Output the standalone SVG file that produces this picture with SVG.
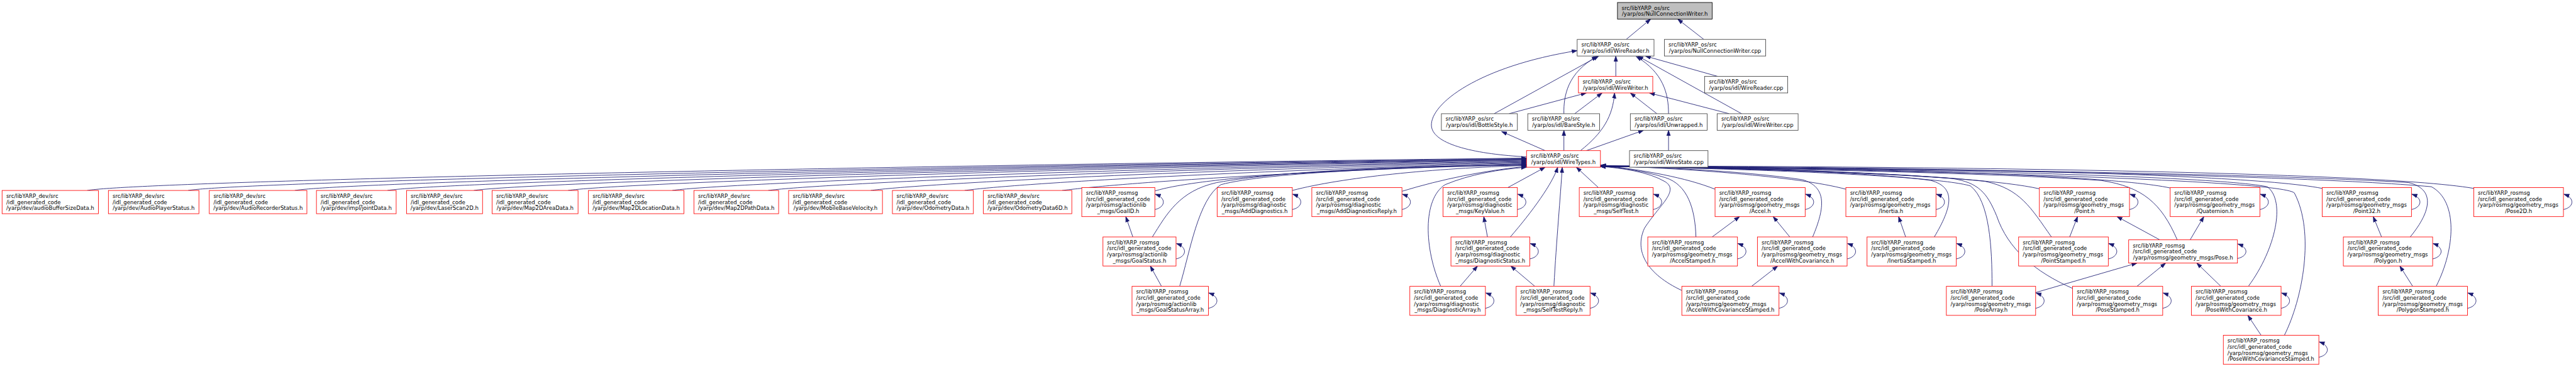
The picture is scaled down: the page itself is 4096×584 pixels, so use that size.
<svg xmlns="http://www.w3.org/2000/svg" width="4096" height="584" viewBox="0 0 4096 584">
<style>
.t{font-family:"DejaVu Sans","Liberation Sans",sans-serif;font-size:13px;fill:#000}
.m{text-anchor:middle}
.nb{fill:#fff;stroke:#404040;stroke-width:1.3}
.nr{fill:#fff;stroke:#ff0000;stroke-width:1.3}
.ng{fill:#bfbfbf;stroke:#000;stroke-width:1.3}
#edges path{fill:none;stroke:#191970;stroke-width:1.3;marker-end:url(#ah)}
</style>
<defs>
<marker id="ah" markerUnits="userSpaceOnUse" markerWidth="14" markerHeight="11" refX="13" refY="5" orient="auto" viewBox="0 0 14 10">
<path d="M0,0.5 L13,5 L0,9.5 z" fill="#191970" stroke="#191970" stroke-width="1"/>
</marker>
</defs>
<rect width="4096" height="584" fill="#fff"/>
<g transform="scale(0.6603)">
<g id="edges">
<path d="M3916,95 L3975,46"/>
<path d="M4103,95 L4040,46"/>
<path d="M3891,184 L3891,135"/>
<path d="M4136,184 L3962,135"/>
<path d="M3598,274 L3850,135"/>
<path d="M3634,274 L3820,224"/>
<path d="M3766,274 C3765,230 3775,175 3846,136"/>
<path d="M3792,274 L3858,224"/>
<path d="M4018,274 C4018,225 4005,175 3940,136"/>
<path d="M3990,274 L3926,224"/>
<path d="M4194,274 L3944,135"/>
<path d="M4164,274 L3972,224"/>
<path d="M3676,378 C3560,372 3450,350 3447,303 C3444,250 3560,160 3798,122"/>
<path d="M3721,363 L3616,317"/>
<path d="M3766,363 L3766,314"/>
<path d="M3806,363 C3860,320 3884,280 3888,224"/>
<path d="M3820,363 L3958,314"/>
<path d="M4018,363 L4018,314"/>
<path d="M210,459 C330,438 1900,402 3676,381"/>
<path d="M453,459 C560,440 2000,404 3676,382"/>
<path d="M710,459 C810,441 2100,405 3676,383"/>
<path d="M933,459 C1030,442 2200,406 3676,384"/>
<path d="M1141,459 C1240,443 2300,407 3676,385"/>
<path d="M1368,459 C1460,444 2400,408 3676,386"/>
<path d="M1619,459 C1710,445 2500,410 3676,388"/>
<path d="M1850,459 C1940,446 2600,412 3676,389"/>
<path d="M2097,459 C2180,447 2700,414 3676,391"/>
<path d="M2323,459 C2400,448 2800,418 3676,392"/>
<path d="M2558,459 C2630,450 2900,422 3676,394"/>
<path d="M2782,460 C2880,430 3200,405 3676,396"/>
<path d="M2775,571 C2810,515 2840,460 2930,440 C3100,410 3400,400 3676,397"/>
<path d="M2841,689 C2865,610 2885,480 2940,445 C3050,415 3400,402 3676,398"/>
<path d="M3112,459 C3230,428 3450,405 3676,399"/>
<path d="M3376,461 C3470,432 3580,410 3676,401"/>
<path d="M3469,689 C3430,600 3425,480 3480,445 C3540,420 3610,408 3676,403"/>
<path d="M3631,452 L3721,403"/>
<path d="M3637,571 C3690,510 3740,440 3751,403"/>
<path d="M3742,689 C3748,580 3758,470 3762,403"/>
<path d="M3849,452 L3796,403"/>
<path d="M4130,456 C4060,428 3960,410 3854,398"/>
<path d="M4445,456 C4330,425 4050,405 3854,399"/>
<path d="M4911,455 C4750,418 4150,403 3854,399"/>
<path d="M5226,453 C5050,415 4250,402 3854,400"/>
<path d="M5592,454 C5380,412 4350,401 3854,400"/>
<path d="M5957,454 C5700,410 4450,400 3854,400"/>
<path d="M4084,571 C4082,505 4065,445 4010,428 C3960,412 3900,404 3854,400"/>
<path d="M4365,571 C4395,500 4400,450 4340,433 C4200,412 4000,403 3854,400"/>
<path d="M4050,700 C3965,660 3935,605 3960,550 C3995,495 4045,460 4010,438 C3970,414 3905,405 3854,401"/>
<path d="M4658,571 C4700,500 4712,452 4650,435 C4500,413 4100,403 3854,401"/>
<path d="M4940,571 C4890,500 4865,455 4780,437 C4550,413 4100,403 3854,401"/>
<path d="M4797,689 C4797,600 4792,485 4745,448 C4650,420 4100,404 3854,401"/>
<path d="M4991,695 C4900,655 4835,600 4808,520 C4785,465 4765,440 4700,430 C4450,412 4100,404 3854,401"/>
<path d="M5243,578 C5205,490 5160,450 5060,435 C4750,413 4100,404 3854,401"/>
<path d="M5415,689 C5480,600 5505,485 5460,450 C5300,418 4300,403 3854,401"/>
<path d="M5501,808 C5545,720 5575,560 5525,465 C5490,430 4400,405 3854,401"/>
<path d="M5804,571 C5858,505 5862,455 5800,440 C5400,415 4400,404 3854,401"/>
<path d="M5867,689 C5912,600 5920,485 5855,450 C5500,418 4400,404 3854,401"/>
<path d="M2728,571 L2711,522"/>
<path d="M2797,690 L2770,641"/>
<path d="M3582,571 L3573,522"/>
<path d="M3516,690 L3558,641"/>
<path d="M3696,690 L3638,641"/>
<path d="M4123,571 L4189,522"/>
<path d="M4310,571 L4270,522"/>
<path d="M4218,690 L4281,641"/>
<path d="M4589,571 L4572,522"/>
<path d="M4984,571 L5003,522"/>
<path d="M5201,578 L5098,522"/>
<path d="M5274,578 L5307,522"/>
<path d="M4902,705 L5146,634"/>
<path d="M5146,690 L5215,634"/>
<path d="M5348,690 L5290,634"/>
<path d="M5445,808 L5413,760"/>
<path d="M5735,571 L5715,522"/>
<path d="M5810,690 L5779,641"/>
<path d="M2781,505 C2805,500 2811,478 2782,468"/>
<path d="M3112,505 C3136,500 3142,478 3113,468"/>
<path d="M3376,505 C3400,500 3406,478 3377,468"/>
<path d="M3654,505 C3678,500 3684,478 3655,468"/>
<path d="M3981,505 C4005,500 4011,478 3982,468"/>
<path d="M4347,505 C4371,500 4377,478 4348,468"/>
<path d="M4662,505 C4686,500 4692,478 4663,468"/>
<path d="M5128,505 C5152,500 5158,478 5129,468"/>
<path d="M5442,505 C5466,500 5472,478 5443,468"/>
<path d="M5807,505 C5831,500 5837,478 5808,468"/>
<path d="M6173,505 C6197,500 6203,478 6174,468"/>
<path d="M2832,624 C2856,619 2862,597 2833,587"/>
<path d="M3684,624 C3708,619 3714,597 3685,587"/>
<path d="M4184,624 C4208,619 4214,597 4185,587"/>
<path d="M4448,624 C4472,619 4478,597 4449,587"/>
<path d="M4711,624 C4735,619 4741,597 4712,587"/>
<path d="M5077,624 C5101,619 5107,597 5078,587"/>
<path d="M5388,623 C5412,618 5418,598 5389,588"/>
<path d="M5858,624 C5882,619 5888,597 5859,587"/>
<path d="M2910,743 C2934,738 2940,716 2911,706"/>
<path d="M3577,743 C3601,738 3607,716 3578,706"/>
<path d="M3829,743 C3853,738 3859,716 3830,706"/>
<path d="M4284,743 C4308,738 4314,716 4285,706"/>
<path d="M4902,743 C4926,738 4932,716 4903,706"/>
<path d="M5208,743 C5232,738 5238,716 5209,706"/>
<path d="M5493,743 C5517,738 5523,716 5494,706"/>
<path d="M5942,743 C5966,738 5972,716 5943,706"/>
<path d="M5584,861 C5608,856 5614,834 5585,824"/>
</g>

<g id="n_root"><rect class="ng" x="3895" y="6" width="228" height="40"/><text class="t" x="3905" y="23.5">src/libYARP_os/src</text><text class="t m" x="4009" y="38">/yarp/os/NullConnectionWriter.h</text></g>
<g id="n_WireReader_h"><rect class="nb" x="3798" y="95" width="185" height="40"/><text class="t" x="3808" y="112.5">src/libYARP_os/src</text><text class="t m" x="3890.5" y="127">/yarp/os/idl/WireReader.h</text></g>
<g id="n_NullConnectionWriter_cpp"><rect class="nb" x="4008" y="95" width="244" height="40"/><text class="t" x="4018" y="112.5">src/libYARP_os/src</text><text class="t m" x="4130" y="127">/yarp/os/NullConnectionWriter.cpp</text></g>
<g id="n_WireWriter_h"><rect class="nr" x="3801" y="184" width="179" height="40"/><text class="t" x="3811" y="201.5">src/libYARP_os/src</text><text class="t m" x="3890.5" y="216">/yarp/os/idl/WireWriter.h</text></g>
<g id="n_WireReader_cpp"><rect class="nb" x="4105" y="184" width="200" height="40"/><text class="t" x="4115" y="201.5">src/libYARP_os/src</text><text class="t m" x="4205" y="216">/yarp/os/idl/WireReader.cpp</text></g>
<g id="n_BottleStyle"><rect class="nb" x="3471" y="274" width="183" height="40"/><text class="t" x="3481" y="291.5">src/libYARP_os/src</text><text class="t m" x="3562.5" y="306">/yarp/os/idl/BottleStyle.h</text></g>
<g id="n_BareStyle"><rect class="nb" x="3679" y="274" width="173" height="40"/><text class="t" x="3689" y="291.5">src/libYARP_os/src</text><text class="t m" x="3765.5" y="306">/yarp/os/idl/BareStyle.h</text></g>
<g id="n_Unwrapped"><rect class="nb" x="3926" y="274" width="185" height="40"/><text class="t" x="3936" y="291.5">src/libYARP_os/src</text><text class="t m" x="4018.5" y="306">/yarp/os/idl/Unwrapped.h</text></g>
<g id="n_WireWriter_cpp"><rect class="nb" x="4135" y="274" width="195" height="40"/><text class="t" x="4145" y="291.5">src/libYARP_os/src</text><text class="t m" x="4232.5" y="306">/yarp/os/idl/WireWriter.cpp</text></g>
<g id="n_WireTypes"><rect class="nr" x="3676" y="363" width="178" height="40"/><text class="t" x="3686" y="380.5">src/libYARP_os/src</text><text class="t m" x="3765" y="395">/yarp/os/idl/WireTypes.h</text></g>
<g id="n_WireState"><rect class="nb" x="3924" y="363" width="189" height="40"/><text class="t" x="3934" y="380.5">src/libYARP_os/src</text><text class="t m" x="4018.5" y="395">/yarp/os/idl/WireState.cpp</text></g>

<g id="n_audioBufferSizeData"><rect class="nr" x="5" y="459" width="232" height="56"/><text class="t" x="15" y="477.5">src/libYARP_dev/src</text><text class="t" x="15" y="492">/idl_generated_code</text><text class="t m" x="121" y="506.5">/yarp/dev/audioBufferSizeData.h</text></g>
<g id="n_AudioPlayerStatus"><rect class="nr" x="261" y="459" width="218" height="56"/><text class="t" x="271" y="477.5">src/libYARP_dev/src</text><text class="t" x="271" y="492">/idl_generated_code</text><text class="t m" x="370" y="506.5">/yarp/dev/AudioPlayerStatus.h</text></g>
<g id="n_AudioRecorderStatus"><rect class="nr" x="504" y="459" width="235" height="56"/><text class="t" x="514" y="477.5">src/libYARP_dev/src</text><text class="t" x="514" y="492">/idl_generated_code</text><text class="t m" x="621.5" y="506.5">/yarp/dev/AudioRecorderStatus.h</text></g>
<g id="n_jointData"><rect class="nr" x="762" y="459" width="192" height="56"/><text class="t" x="772" y="477.5">src/libYARP_dev/src</text><text class="t" x="772" y="492">/idl_generated_code</text><text class="t m" x="858" y="506.5">/yarp/dev/impl/jointData.h</text></g>
<g id="n_LaserScan2D"><rect class="nr" x="979" y="459" width="183" height="56"/><text class="t" x="989" y="477.5">src/libYARP_dev/src</text><text class="t" x="989" y="492">/idl_generated_code</text><text class="t m" x="1070.5" y="506.5">/yarp/dev/LaserScan2D.h</text></g>
<g id="n_Map2DAreaData"><rect class="nr" x="1185" y="459" width="207" height="56"/><text class="t" x="1195" y="477.5">src/libYARP_dev/src</text><text class="t" x="1195" y="492">/idl_generated_code</text><text class="t m" x="1288.5" y="506.5">/yarp/dev/Map2DAreaData.h</text></g>
<g id="n_Map2DLocationData"><rect class="nr" x="1417" y="459" width="230" height="56"/><text class="t" x="1427" y="477.5">src/libYARP_dev/src</text><text class="t" x="1427" y="492">/idl_generated_code</text><text class="t m" x="1532" y="506.5">/yarp/dev/Map2DLocationData.h</text></g>
<g id="n_Map2DPathData"><rect class="nr" x="1671" y="459" width="204" height="56"/><text class="t" x="1681" y="477.5">src/libYARP_dev/src</text><text class="t" x="1681" y="492">/idl_generated_code</text><text class="t m" x="1773" y="506.5">/yarp/dev/Map2DPathData.h</text></g>
<g id="n_MobileBaseVelocity"><rect class="nr" x="1899" y="459" width="226" height="56"/><text class="t" x="1909" y="477.5">src/libYARP_dev/src</text><text class="t" x="1909" y="492">/idl_generated_code</text><text class="t m" x="2012" y="506.5">/yarp/dev/MobileBaseVelocity.h</text></g>
<g id="n_OdometryData"><rect class="nr" x="2149" y="459" width="195" height="56"/><text class="t" x="2159" y="477.5">src/libYARP_dev/src</text><text class="t" x="2159" y="492">/idl_generated_code</text><text class="t m" x="2246.5" y="506.5">/yarp/dev/OdometryData.h</text></g>
<g id="n_OdometryData6D"><rect class="nr" x="2368" y="459" width="213" height="56"/><text class="t" x="2378" y="477.5">src/libYARP_dev/src</text><text class="t" x="2378" y="492">/idl_generated_code</text><text class="t m" x="2474.5" y="506.5">/yarp/dev/OdometryData6D.h</text></g>

<g id="n_GoalID"><rect class="nr" x="2605" y="452" width="176" height="70"/><text class="t" x="2615" y="470">src/libYARP_rosmsg</text><text class="t" x="2615" y="484.5">/src/idl_generated_code</text><text class="t" x="2615" y="499">/yarp/rosmsg/actionlib</text><text class="t m" x="2693" y="513.5">_msgs/GoalID.h</text></g>
<g id="n_AddDiagnostics"><rect class="nr" x="2931" y="452" width="181" height="70"/><text class="t" x="2941" y="470">src/libYARP_rosmsg</text><text class="t" x="2941" y="484.5">/src/idl_generated_code</text><text class="t" x="2941" y="499">/yarp/rosmsg/diagnostic</text><text class="t m" x="3021.5" y="513.5">_msgs/AddDiagnostics.h</text></g>
<g id="n_AddDiagnosticsReply"><rect class="nr" x="3159" y="452" width="217" height="70"/><text class="t" x="3169" y="470">src/libYARP_rosmsg</text><text class="t" x="3169" y="484.5">/src/idl_generated_code</text><text class="t" x="3169" y="499">/yarp/rosmsg/diagnostic</text><text class="t m" x="3267.5" y="513.5">_msgs/AddDiagnosticsReply.h</text></g>
<g id="n_KeyValue"><rect class="nr" x="3475" y="452" width="179" height="70"/><text class="t" x="3485" y="470">src/libYARP_rosmsg</text><text class="t" x="3485" y="484.5">/src/idl_generated_code</text><text class="t" x="3485" y="499">/yarp/rosmsg/diagnostic</text><text class="t m" x="3564.5" y="513.5">_msgs/KeyValue.h</text></g>
<g id="n_SelfTest"><rect class="nr" x="3803" y="452" width="178" height="70"/><text class="t" x="3813" y="470">src/libYARP_rosmsg</text><text class="t" x="3813" y="484.5">/src/idl_generated_code</text><text class="t" x="3813" y="499">/yarp/rosmsg/diagnostic</text><text class="t m" x="3892" y="513.5">_msgs/SelfTest.h</text></g>
<g id="n_Accel"><rect class="nr" x="4130" y="452" width="217" height="70"/><text class="t" x="4140" y="470">src/libYARP_rosmsg</text><text class="t" x="4140" y="484.5">/src/idl_generated_code</text><text class="t" x="4140" y="499">/yarp/rosmsg/geometry_msgs</text><text class="t m" x="4238.5" y="513.5">/Accel.h</text></g>
<g id="n_Inertia"><rect class="nr" x="4445" y="452" width="217" height="70"/><text class="t" x="4455" y="470">src/libYARP_rosmsg</text><text class="t" x="4455" y="484.5">/src/idl_generated_code</text><text class="t" x="4455" y="499">/yarp/rosmsg/geometry_msgs</text><text class="t m" x="4553.5" y="513.5">/Inertia.h</text></g>
<g id="n_Point"><rect class="nr" x="4911" y="452" width="217" height="70"/><text class="t" x="4921" y="470">src/libYARP_rosmsg</text><text class="t" x="4921" y="484.5">/src/idl_generated_code</text><text class="t" x="4921" y="499">/yarp/rosmsg/geometry_msgs</text><text class="t m" x="5019.5" y="513.5">/Point.h</text></g>
<g id="n_Quaternion"><rect class="nr" x="5226" y="452" width="216" height="70"/><text class="t" x="5236" y="470">src/libYARP_rosmsg</text><text class="t" x="5236" y="484.5">/src/idl_generated_code</text><text class="t" x="5236" y="499">/yarp/rosmsg/geometry_msgs</text><text class="t m" x="5334" y="513.5">/Quaternion.h</text></g>
<g id="n_Point32"><rect class="nr" x="5592" y="452" width="215" height="70"/><text class="t" x="5602" y="470">src/libYARP_rosmsg</text><text class="t" x="5602" y="484.5">/src/idl_generated_code</text><text class="t" x="5602" y="499">/yarp/rosmsg/geometry_msgs</text><text class="t m" x="5699.5" y="513.5">/Point32.h</text></g>
<g id="n_Pose2D"><rect class="nr" x="5957" y="452" width="216" height="70"/><text class="t" x="5967" y="470">src/libYARP_rosmsg</text><text class="t" x="5967" y="484.5">/src/idl_generated_code</text><text class="t" x="5967" y="499">/yarp/rosmsg/geometry_msgs</text><text class="t m" x="6065" y="513.5">/Pose2D.h</text></g>

<g id="n_GoalStatus"><rect class="nr" x="2656" y="571" width="176" height="70"/><text class="t" x="2666" y="589">src/libYARP_rosmsg</text><text class="t" x="2666" y="603.5">/src/idl_generated_code</text><text class="t" x="2666" y="618">/yarp/rosmsg/actionlib</text><text class="t m" x="2744" y="632.5">_msgs/GoalStatus.h</text></g>
<g id="n_DiagnosticStatus"><rect class="nr" x="3494" y="571" width="190" height="70"/><text class="t" x="3504" y="589">src/libYARP_rosmsg</text><text class="t" x="3504" y="603.5">/src/idl_generated_code</text><text class="t" x="3504" y="618">/yarp/rosmsg/diagnostic</text><text class="t m" x="3589" y="632.5">_msgs/DiagnosticStatus.h</text></g>
<g id="n_AccelStamped"><rect class="nr" x="3968" y="571" width="216" height="70"/><text class="t" x="3978" y="589">src/libYARP_rosmsg</text><text class="t" x="3978" y="603.5">/src/idl_generated_code</text><text class="t" x="3978" y="618">/yarp/rosmsg/geometry_msgs</text><text class="t m" x="4076" y="632.5">/AccelStamped.h</text></g>
<g id="n_AccelWithCovariance"><rect class="nr" x="4232" y="571" width="216" height="70"/><text class="t" x="4242" y="589">src/libYARP_rosmsg</text><text class="t" x="4242" y="603.5">/src/idl_generated_code</text><text class="t" x="4242" y="618">/yarp/rosmsg/geometry_msgs</text><text class="t m" x="4340" y="632.5">/AccelWithCovariance.h</text></g>
<g id="n_InertiaStamped"><rect class="nr" x="4496" y="571" width="215" height="70"/><text class="t" x="4506" y="589">src/libYARP_rosmsg</text><text class="t" x="4506" y="603.5">/src/idl_generated_code</text><text class="t" x="4506" y="618">/yarp/rosmsg/geometry_msgs</text><text class="t m" x="4603.5" y="632.5">/InertiaStamped.h</text></g>
<g id="n_PointStamped"><rect class="nr" x="4861" y="571" width="216" height="70"/><text class="t" x="4871" y="589">src/libYARP_rosmsg</text><text class="t" x="4871" y="603.5">/src/idl_generated_code</text><text class="t" x="4871" y="618">/yarp/rosmsg/geometry_msgs</text><text class="t m" x="4969" y="632.5">/PointStamped.h</text></g>
<g id="n_Pose"><rect class="nr" x="5126" y="578" width="262" height="56"/><text class="t" x="5136" y="596.5">src/libYARP_rosmsg</text><text class="t" x="5136" y="611">/src/idl_generated_code</text><text class="t m" x="5257" y="625.5">/yarp/rosmsg/geometry_msgs/Pose.h</text></g>
<g id="n_Polygon"><rect class="nr" x="5643" y="571" width="215" height="70"/><text class="t" x="5653" y="589">src/libYARP_rosmsg</text><text class="t" x="5653" y="603.5">/src/idl_generated_code</text><text class="t" x="5653" y="618">/yarp/rosmsg/geometry_msgs</text><text class="t m" x="5750.5" y="632.5">/Polygon.h</text></g>

<g id="n_GoalStatusArray"><rect class="nr" x="2726" y="690" width="184" height="70"/><text class="t" x="2736" y="708">src/libYARP_rosmsg</text><text class="t" x="2736" y="722.5">/src/idl_generated_code</text><text class="t" x="2736" y="737">/yarp/rosmsg/actionlib</text><text class="t m" x="2818" y="751.5">_msgs/GoalStatusArray.h</text></g>
<g id="n_DiagnosticArray"><rect class="nr" x="3395" y="690" width="182" height="70"/><text class="t" x="3405" y="708">src/libYARP_rosmsg</text><text class="t" x="3405" y="722.5">/src/idl_generated_code</text><text class="t" x="3405" y="737">/yarp/rosmsg/diagnostic</text><text class="t m" x="3486" y="751.5">_msgs/DiagnosticArray.h</text></g>
<g id="n_SelfTestReply"><rect class="nr" x="3651" y="690" width="178" height="70"/><text class="t" x="3661" y="708">src/libYARP_rosmsg</text><text class="t" x="3661" y="722.5">/src/idl_generated_code</text><text class="t" x="3661" y="737">/yarp/rosmsg/diagnostic</text><text class="t m" x="3740" y="751.5">_msgs/SelfTestReply.h</text></g>
<g id="n_AccelWithCovarianceStamped"><rect class="nr" x="4050" y="690" width="234" height="70"/><text class="t" x="4060" y="708">src/libYARP_rosmsg</text><text class="t" x="4060" y="722.5">/src/idl_generated_code</text><text class="t" x="4060" y="737">/yarp/rosmsg/geometry_msgs</text><text class="t m" x="4167" y="751.5">/AccelWithCovarianceStamped.h</text></g>
<g id="n_PoseArray"><rect class="nr" x="4687" y="690" width="215" height="70"/><text class="t" x="4697" y="708">src/libYARP_rosmsg</text><text class="t" x="4697" y="722.5">/src/idl_generated_code</text><text class="t" x="4697" y="737">/yarp/rosmsg/geometry_msgs</text><text class="t m" x="4794.5" y="751.5">/PoseArray.h</text></g>
<g id="n_PoseStamped"><rect class="nr" x="4991" y="690" width="217" height="70"/><text class="t" x="5001" y="708">src/libYARP_rosmsg</text><text class="t" x="5001" y="722.5">/src/idl_generated_code</text><text class="t" x="5001" y="737">/yarp/rosmsg/geometry_msgs</text><text class="t m" x="5099.5" y="751.5">/PoseStamped.h</text></g>
<g id="n_PoseWithCovariance"><rect class="nr" x="5277" y="690" width="216" height="70"/><text class="t" x="5287" y="708">src/libYARP_rosmsg</text><text class="t" x="5287" y="722.5">/src/idl_generated_code</text><text class="t" x="5287" y="737">/yarp/rosmsg/geometry_msgs</text><text class="t m" x="5385" y="751.5">/PoseWithCovariance.h</text></g>
<g id="n_PolygonStamped"><rect class="nr" x="5727" y="690" width="215" height="70"/><text class="t" x="5737" y="708">src/libYARP_rosmsg</text><text class="t" x="5737" y="722.5">/src/idl_generated_code</text><text class="t" x="5737" y="737">/yarp/rosmsg/geometry_msgs</text><text class="t m" x="5834.5" y="751.5">/PolygonStamped.h</text></g>

<g id="n_PoseWithCovarianceStamped"><rect class="nr" x="5354" y="808" width="230" height="70"/><text class="t" x="5364" y="826">src/libYARP_rosmsg</text><text class="t" x="5364" y="840.5">/src/idl_generated_code</text><text class="t" x="5364" y="855">/yarp/rosmsg/geometry_msgs</text><text class="t m" x="5469" y="869.5">/PoseWithCovarianceStamped.h</text></g>
</g>
</svg>
